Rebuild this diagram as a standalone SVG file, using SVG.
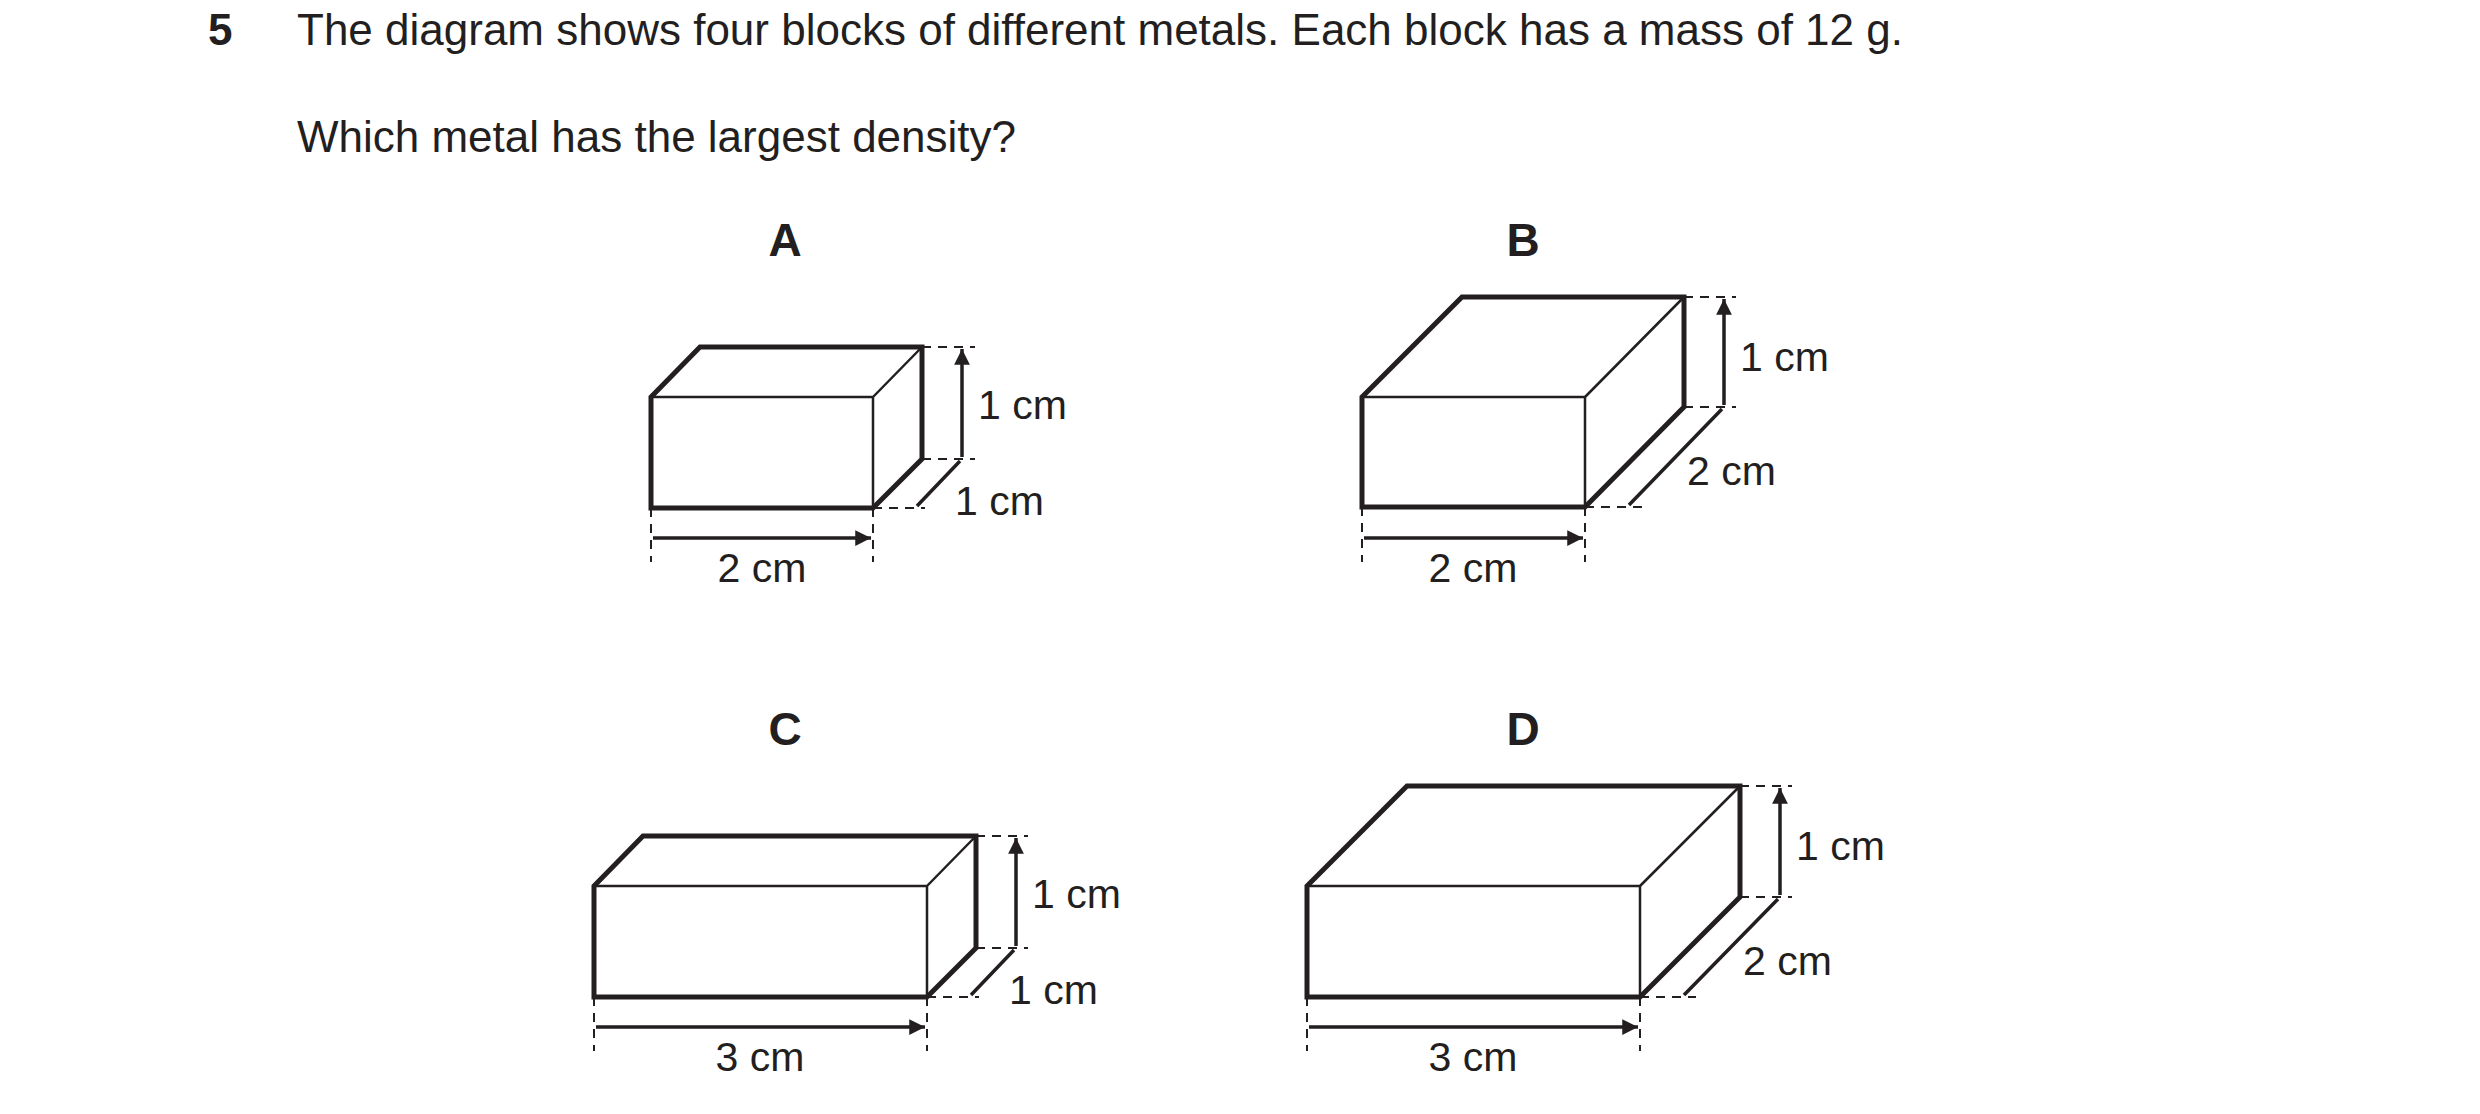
<svg xmlns="http://www.w3.org/2000/svg" width="2480" height="1114" viewBox="0 0 2480 1114">
<style>
text{font-family:"Liberation Sans",Arial,sans-serif;fill:#231f20}
.q{font-size:44px}
.b{font-weight:bold}
.lbl{font-size:46px;font-weight:bold;text-anchor:middle}
.d{font-size:41px}
.thick{fill:none;stroke:#231f20;stroke-width:5;stroke-linejoin:miter}
.thin{fill:none;stroke:#231f20;stroke-width:2.5}
.dash{fill:none;stroke:#231f20;stroke-width:2;stroke-dasharray:9,7}
.arr{fill:none;stroke:#231f20;stroke-width:3.5;marker-start:url(#ah);marker-end:url(#ah)}
</style>
<defs>
<marker id="ah" viewBox="0 0 10 10" refX="10" refY="5" markerWidth="7" markerHeight="4.5" markerUnits="strokeWidth" orient="auto-start-reverse"><path d="M0,0L10,5L0,10z" fill="#231f20"/></marker>
</defs>
<rect width="2480" height="1114" fill="#fff"/>
<text class="q b" x="208" y="45">5</text>
<text class="q" x="297" y="45">The diagram shows four blocks of different metals. Each block has a mass of 12 g.</text>
<text class="q" x="297" y="152">Which metal has the largest density?</text>

<g id="blockA">
<text class="lbl" x="785" y="256">A</text>
<path class="thick" d="M651,508V397L700,347H922V459L873,508Z"/>
<path class="thin" d="M651,397H873V508M873,397L922,347"/>
<path class="dash" d="M922,347H975M922,459H975M873,508H925M651,508V562M873,508V562"/>
<path class="arr" d="M962,349V457M917,506L960,461M653,538H871"/>
<text class="d" x="978" y="419">1 cm</text>
<text class="d" x="955" y="515">1 cm</text>
<text class="d" x="762" y="582" text-anchor="middle">2 cm</text>
</g>

<g id="blockB">
<text class="lbl" x="1523" y="256">B</text>
<path class="thick" d="M1362,507V397L1462,297H1684V407L1585,507Z"/>
<path class="thin" d="M1362,397H1585V507M1585,397L1684,297"/>
<path class="dash" d="M1684,297H1736M1684,407H1736M1585,507H1643M1362,507V562M1585,507V562"/>
<path class="arr" d="M1724,299V405M1629,505L1722,409M1364,538H1583"/>
<text class="d" x="1740" y="371">1 cm</text>
<text class="d" x="1687" y="485">2 cm</text>
<text class="d" x="1473" y="582" text-anchor="middle">2 cm</text>
</g>

<g id="blockC">
<text class="lbl" x="785" y="745">C</text>
<path class="thick" d="M594,997V886L643,836H976V948L927,997Z"/>
<path class="thin" d="M594,886H927V997M927,886L976,836"/>
<path class="dash" d="M976,836H1028M976,948H1028M927,997H979M594,997V1051M927,997V1051"/>
<path class="arr" d="M1016,838V946M971,995L1014,950M596,1027H925"/>
<text class="d" x="1032" y="908">1 cm</text>
<text class="d" x="1009" y="1004">1 cm</text>
<text class="d" x="760" y="1071" text-anchor="middle">3 cm</text>
</g>

<g id="blockD">
<text class="lbl" x="1523" y="745">D</text>
<path class="thick" d="M1307,997V886L1407,786H1740V897L1640,997Z"/>
<path class="thin" d="M1307,886H1640V997M1640,886L1740,786"/>
<path class="dash" d="M1740,786H1792M1740,897H1792M1640,997H1696M1307,997V1051M1640,997V1051"/>
<path class="arr" d="M1780,788V895M1684,995L1778,899M1309,1027H1638"/>
<text class="d" x="1796" y="860">1 cm</text>
<text class="d" x="1743" y="975">2 cm</text>
<text class="d" x="1473" y="1071" text-anchor="middle">3 cm</text>
</g>
</svg>
